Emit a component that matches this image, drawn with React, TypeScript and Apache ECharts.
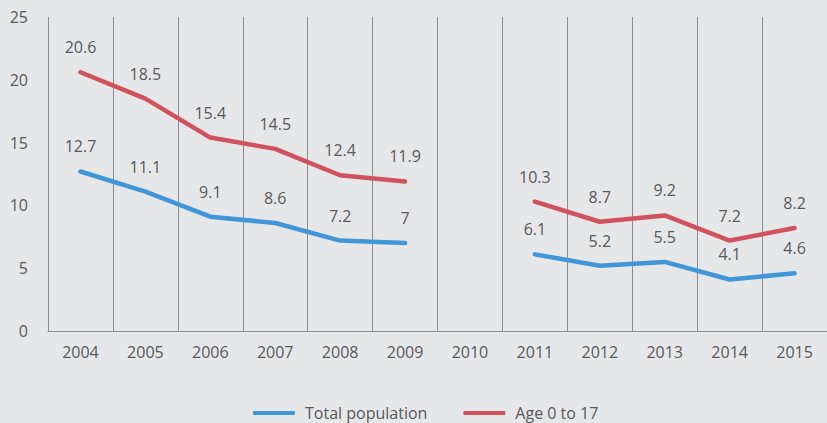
import React, { useEffect, useRef } from "react";
import * as echarts from "echarts";

const categories = ["2004", "2005", "2006", "2007", "2008", "2009", "2010", "2011", "2012", "2013", "2014", "2015"];
const totalPopulation: (number | string)[] = [12.7, 11.1, 9.1, 8.6, 7.2, 7, "-", 6.1, 5.2, 5.5, 4.1, 4.6];
const age0to17: (number | string)[] = [20.6, 18.5, 15.4, 14.5, 12.4, 11.9, "-", 10.3, 8.7, 9.2, 7.2, 8.2];
const seriesNames = ["Total population", "Age 0 to 17"];

const FONT = "'Open Sans', sans-serif";
const TEXT = "#595959";

export default function App() {
  const ref = useRef<HTMLDivElement>(null);
  useEffect(() => {
    if (!ref.current) return;
    const chart = echarts.init(ref.current, undefined, { renderer: "svg" });
    const label = {
      show: true,
      position: "top",
      distance: 17,
      color: TEXT,
      fontSize: 16,
      fontFamily: FONT,
    };
    chart.setOption({
      animation: false,
      backgroundColor: "#e6e7e9",
      textStyle: { fontFamily: FONT },
      grid: { left: 48, top: 17, width: 787, height: 314, containLabel: false },
      legend: {
        bottom: -3,
        left: 248,
        itemWidth: 42,
        itemHeight: 4,
        itemGap: 36,
        icon: "roundRect",
        textStyle: { color: TEXT, fontSize: 16, fontFamily: FONT, padding: [0, 0, 0, 5] },
        data: seriesNames,
      },
      xAxis: {
        type: "category",
        data: categories,
        boundaryGap: true,
        axisLine: { lineStyle: { color: "#8c8c8c", width: 1 } },
        axisTick: { show: false },
        splitLine: { show: true, lineStyle: { color: "#8c8c8c", width: 1 } },
        axisLabel: { color: TEXT, fontSize: 16, fontFamily: FONT, margin: 13, interval: 0 },
      },
      yAxis: {
        type: "value",
        min: 0,
        max: 25,
        interval: 5,
        axisLine: { show: false },
        axisTick: { show: false },
        splitLine: { show: false },
        axisLabel: { color: TEXT, fontSize: 16, fontFamily: FONT, margin: 20 },
      },
      series: [
        {
          name: seriesNames[0],
          type: "line",
          data: totalPopulation,
          symbol: "circle",
          symbolSize: 0.1,
          showSymbol: true,
          itemStyle: { color: "#4096d6" },
          lineStyle: { color: "#4096d6", width: 4.5, cap: "round" },
          label,
        },
        {
          name: seriesNames[1],
          type: "line",
          data: age0to17,
          symbol: "circle",
          symbolSize: 0.1,
          showSymbol: true,
          itemStyle: { color: "#d0525c" },
          lineStyle: { color: "#d0525c", width: 4.5, cap: "round" },
          label,
        },
      ],
    });
    return () => chart.dispose();
  }, []);
  return (
    <div
      ref={ref}
      style={{ position: "absolute", left: 0, top: 0, width: 827, height: 423 }}
    />
  );
}
